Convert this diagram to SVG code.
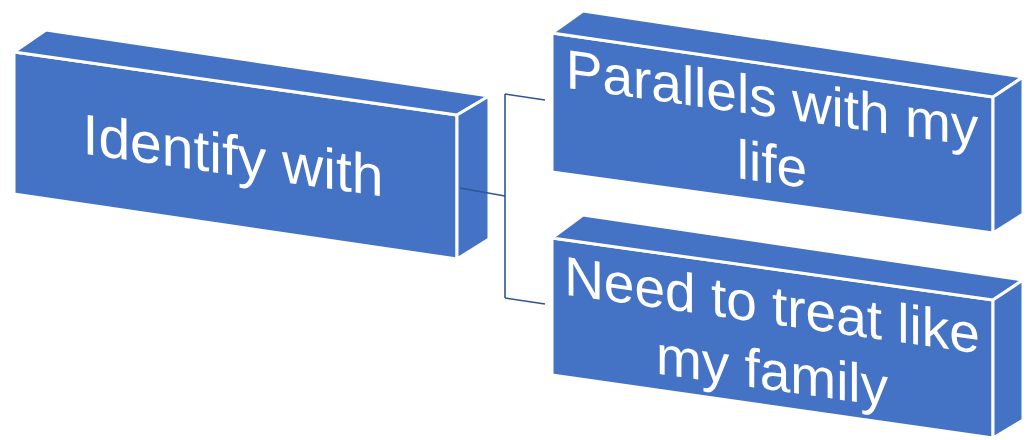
<svg xmlns="http://www.w3.org/2000/svg" width="1026" height="440" viewBox="0 0 1026 440">
<style>
.face{fill:#4472C4;stroke:#FFFFFF;stroke-width:3;stroke-linejoin:round}
.lbl{fill:#FFFFFF;font-family:"Liberation Sans",Arial,sans-serif;font-size:55px;text-anchor:middle}
.conn{fill:none;stroke:#2F5597;stroke-width:1.6}
</style>
<rect width="1026" height="440" fill="#FFFFFF"/>
<g id="node-identify">
<polygon class="face" points="14,52 457,115 457,259 14,194"/>
<polygon class="face" points="14,52 46,30 489,96 457,115"/>
<polygon class="face" points="457,115 489,96 489,239 457,259"/>
<text class="lbl" style="font-size:57px" transform="translate(233,175) skewY(8.1)">Identify with</text>
</g>
<g id="node-parallels">
<polygon class="face" points="552,33 993,97 993,233 552,172"/>
<polygon class="face" points="552,33 583,11 1023,77 993,97"/>
<polygon class="face" points="993,97 1023,77 1023,214 993,233"/>
<text class="lbl" transform="translate(772,117) skewY(8.1)"><tspan x="0" y="0">Parallels with my</tspan><tspan x="0" y="66">life</tspan></text>
</g>
<g id="node-family">
<polygon class="face" points="552,238 993,300 993,438 552,375"/>
<polygon class="face" points="552,238 583,215 1023,280 993,300"/>
<polygon class="face" points="993,300 1023,280 1023,420 993,438"/>
<text class="lbl" transform="translate(772,324) skewY(8.1)"><tspan x="0" y="0">Need to treat like</tspan><tspan x="0" y="66">my family</tspan></text>
</g>
<g id="connectors">
<path class="conn" d="M460,188 L505,196 M505,94 L505,298 M505,94 L545,100 M505,298 L545,304"/>
</g>
</svg>
